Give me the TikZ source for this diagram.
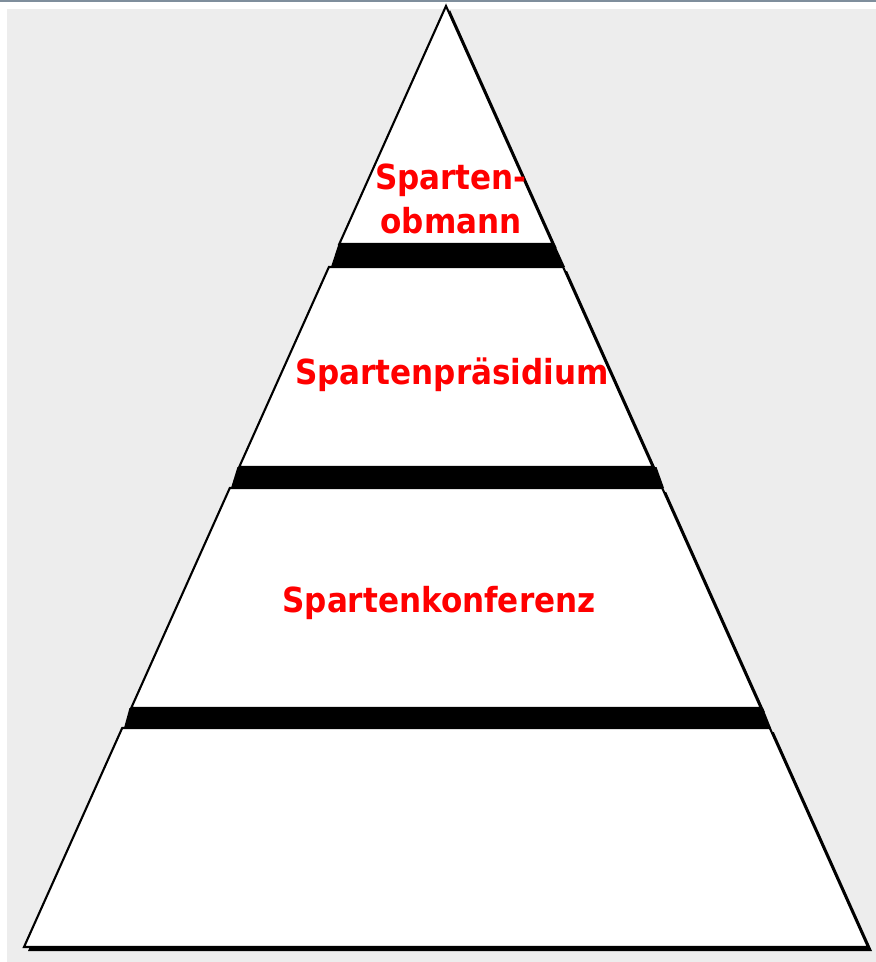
\documentclass[tikz,border=0pt]{standalone}
\usepackage{fontspec}
\newfontfamily\labfont{DejaVu Sans Condensed}[BoldFont={DejaVu Sans Condensed Bold}]
\definecolor{bggray}{HTML}{EDEDED}
\definecolor{topline}{HTML}{7F8E9C}
\definecolor{labred}{HTML}{FF0000}
\tikzset{
  piece/.style={fill=white, draw=black, line width=2.1pt, line join=miter},
  shade/.style={fill=black},
  band/.style={fill=black},
  lab/.style={text=labred, font=\labfont\bfseries\fontsize{34.5}{44}\selectfont, align=center, inner sep=0pt}
}
\begin{document}
\begin{tikzpicture}[x=1pt,y=-1pt]
\useasboundingbox (0,0) rectangle (876,962);
\fill[white] (0,0) rectangle (876,962);
\fill[bggray] (7,9) rectangle (876,962);
\fill[topline] (0,0) rectangle (876,1.5);
% shadows
\begin{scope}[shift={(4,4)}]
\fill[shade] (446,6) -- (552.7,244) -- (339.3,244) -- cycle;
\fill[shade] (328.9,267) -- (563.1,267) -- (652.8,467) -- (239.2,467) -- cycle;
\fill[shade] (229.8,488) -- (662.2,488) -- (760.8,708) -- (131.2,708) -- cycle;
\fill[shade] (122.2,728) -- (769.8,728) -- (868,947) -- (24,947) -- cycle;
\end{scope}
% pieces
\draw[piece] (446,6) -- (552.7,244) -- (339.3,244) -- cycle;
\draw[piece] (328.9,267) -- (563.1,267) -- (652.8,467) -- (239.2,467) -- cycle;
\draw[piece] (229.8,488) -- (662.2,488) -- (760.8,708) -- (131.2,708) -- cycle;
\draw[piece] (122.2,728) -- (769.8,728) -- (868,947) -- (24,947) -- cycle;
% bands
\fill[band] (338.5,244) -- (554.5,244) -- (565,267) -- (331,267) -- cycle;
\fill[band] (237.5,467) -- (656.5,467) -- (664,488) -- (231,488) -- cycle;
\fill[band] (129.5,708) -- (763,708) -- (771,728) -- (124,728) -- cycle;
% labels
\node[lab, anchor=base] (obmann) at (451,233) {Sparten-\\obmann};
\node[lab, anchor=base] (praes) at (452,384) {Spartenpräsidium};
\node[lab, anchor=base] (konf) at (439,612) {Spartenkonferenz};
\end{tikzpicture}
\end{document}
